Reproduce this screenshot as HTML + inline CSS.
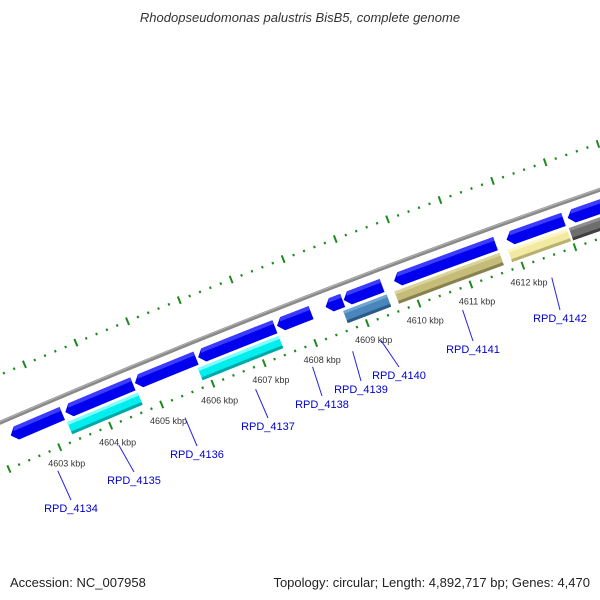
<!DOCTYPE html>
<html><head><meta charset="utf-8"><style>
html,body{margin:0;padding:0;background:#fff;}
svg{display:block;font-family:"Liberation Sans","DejaVu Sans",sans-serif;}
</style></head><body>
<svg id="map" width="600" height="600" viewBox="0 0 600 600" xmlns="http://www.w3.org/2000/svg">
<rect width="600" height="600" fill="#fff"/>
<text x="300" y="22" text-anchor="middle" font-size="13" font-style="italic" fill="#333">Rhodopseudomonas palustris BisB5, complete genome</text>
<g id="ticksOuter"></g>
<g id="ticksInner"></g>
<g id="backbone"></g>
<g id="genes"></g>
<g id="feats"></g>
<g id="tickLabels"></g>
<g id="geneLabels"></g>
<text x="10" y="587" font-size="13" fill="#222">Accession: NC_007958</text>
<text x="590" y="587" font-size="13" fill="#222" text-anchor="end">Topology: circular; Length: 4,892,717 bp; Genes: 4,470</text>
</svg>
<script>
// data (kbp)
const geneStarts = [4602.27,4603.34,4604.70,4605.93,4607.46,4608.40,4608.75,4609.72,4611.88,4613.05];
const geneEnds   = [4603.28,4604.66,4605.89,4607.42,4608.12,4608.73,4609.49,4611.67,4612.97,4614.50];
const featStarts = [4603.30,4605.85,4608.67,4609.66,4611.84,4613.01];
const featEnds   = [4604.68,4607.42,4609.51,4611.68,4612.97,4614.50];
const featKinds  = ["cyan","cyan","steel","khaki","yellow","gray"];
const tickLabelValues = [4603,4604,4605,4606,4607,4608,4609,4610,4611,4612];
const geneLabelNames = ["RPD_4134","RPD_4135","RPD_4136","RPD_4137","RPD_4138","RPD_4139","RPD_4140","RPD_4141","RPD_4142"];
const geneLabelMids  = [4602.80,4604.00,4605.30,4606.68,4607.79,4608.57,4609.12,4610.70,4612.42];

// layout
const CX=3392, CY=8270, RB=8549, RTO=8593, RTI=8503;
const labelEnds=[[71,500],[134,472],[197,446],[268,418],[322,396],[361,381],[399,367],[473,341],[560,310]];
const palette={cyan:["#00eeee","#80ffff","#00a8a8"],steel:["#4a86bc","#70a4d4","#2a5a88"],
 khaki:["#c4bc78","#dad49c","#878250"],yellow:["#f2eaa2","#fbf6c8","#b8b070"],gray:["#6e6e6e","#8e8e8e","#404040"]};
const NS="http://www.w3.org/2000/svg";
function ang(k){return (247.3+(k-4604)*0.3725)*Math.PI/180;}
function P(k,r){const a=ang(k);return [CX+r*Math.cos(a),CY+r*Math.sin(a)];}
function f(p){return p[0].toFixed(2)+" "+p[1].toFixed(2);}
function band(a,b,r1,r2){return "M"+f(P(a,r2))+"A"+r2+" "+r2+" 0 0 1 "+f(P(b,r2))+"L"+f(P(b,r1))+"A"+r1+" "+r1+" 0 0 0 "+f(P(a,r1))+"Z";}
function mk(tag,attrs,parent){const e=document.createElementNS(NS,tag);for(const k in attrs)e.setAttribute(k,attrs[k]);parent.appendChild(e);return e;}

// ticks
function ticks(gid,r,name){
  const g=document.getElementById(gid);
  for(let i=0;i<=70;i++){
    const k=4601+i*0.2; const major=(i%5===0);
    const a=P(k,major?r-4:r-1.2), b=P(k,major?r+4:r+1.2);
    const l=mk("line",{x1:a[0],y1:a[1],x2:b[0],y2:b[1],stroke:"#1e8a1e","stroke-width":major?2:2},g);
    
    
  }
}
ticks("ticksOuter",RTO,"outer-tick");
ticks("ticksInner",RTI,"inner-tick");

// backbone
const bb=document.getElementById("backbone");
let e=mk("path",{d:"M"+f(P(4600,RB))+"A"+RB+" "+RB+" 0 0 1 "+f(P(4616,RB)),fill:"none",stroke:"#8a8a8a","stroke-width":4},bb);


e=mk("path",{d:"M"+f(P(4600,RB+1))+"A"+(RB+1)+" "+(RB+1)+" 0 0 1 "+f(P(4616,RB+1)),fill:"none",stroke:"#b4b4b4","stroke-width":1},bb);



// genes (reverse arrows)
const gg=document.getElementById("genes");
for(let i=0;i<geneStarts.length;i++){
  const a=geneStarts[i], b=geneEnds[i], r1=8526, r2=8540, rm=(r1+r2)/2, h=0.11;
  const d="M"+f(P(a+h,r2))+"A"+r2+" "+r2+" 0 0 1 "+f(P(b,r2))+"L"+f(P(b,r1))+"A"+r1+" "+r1+" 0 0 0 "+f(P(a+h,r1))+"L"+f(P(a,rm))+"Z";
  const p=mk("path",{d:d,fill:"#0000ee"},gg);
  
  
  const d2="M"+f(P(a+h,r2))+"A"+r2+" "+r2+" 0 0 1 "+f(P(b,r2))+"L"+f(P(b,r2-4))+"A"+(r2-4)+" "+(r2-4)+" 0 0 0 "+f(P(a+h*0.7,r2-4))+"Z";
  const q=mk("path",{d:d2,fill:"#3c3cff"},gg);
  
  
}

// features
const fg=document.getElementById("feats");
for(let i=0;i<featStarts.length;i++){
  const a=featStarts[i], b=featEnds[i], c=palette[featKinds[i]];
  let p=mk("path",{d:band(a,b,8510,8523),fill:c[0]},fg);
  
  
  p=mk("path",{d:band(a,b,8520,8523),fill:c[1]},fg);
  
  
  p=mk("path",{d:band(a,b,8510,8513),fill:c[2]},fg);
  
  
}

// tick labels
const tl=document.getElementById("tickLabels");
tickLabelValues.forEach(v=>{
  const p=P(v,8485);
  const t=mk("text",{x:p[0].toFixed(1),y:(p[1]+3).toFixed(1),"text-anchor":"middle","font-size":"9",fill:"#333"},tl);
  t.textContent=v+" kbp";
  
  
});

// gene labels
const gl=document.getElementById("geneLabels");
geneLabelNames.forEach((n,i)=>{
  const s=P(geneLabelMids[i],8482), en=labelEnds[i];
  const l=mk("line",{x1:s[0],y1:s[1],x2:en[0],y2:en[1],stroke:"#2222ee","stroke-width":1},gl);
  
  
  const t=mk("text",{x:en[0],y:en[1]+12,"text-anchor":"middle","font-size":"11",fill:"#0000cc"},gl);
  t.textContent=n;
  
  
});
</script>
</body></html>
